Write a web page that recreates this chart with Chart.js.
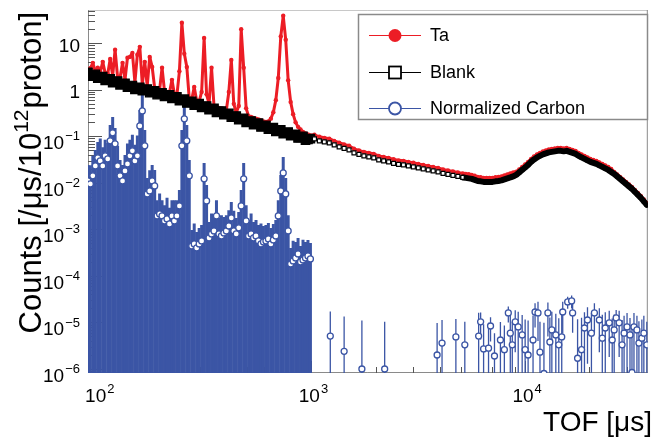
<!DOCTYPE html>
<html>
<head>
<meta charset="utf-8">
<script src="https://cdn.jsdelivr.net/npm/chart.js@4.4.0/dist/chart.umd.min.js"></script>
<style>
  html, body { margin: 0; padding: 0; background: #fff; }
  #tof { display: block; }
</style>
</head>
<body>
<canvas id="tof" width="655" height="437"></canvas>
<script>
// TOF bins below 1 ms (shared by all three spectra)
const tofEarly = [
  89.9, 92.3, 94.8, 97.4, 100.0, 102.7, 105.5, 108.3, 111.3, 114.3,
  117.4, 120.5, 123.8, 127.1, 130.6, 134.1, 137.7, 141.4, 145.2, 149.2,
  153.2, 157.3, 161.6, 165.9, 170.4, 175.0, 179.7, 184.6, 189.6, 194.7,
  199.9, 205.3, 210.9, 216.6, 222.4, 228.4, 234.6, 241.0, 247.5, 254.1,
  261.0, 268.0, 275.3, 282.7, 290.3, 298.2, 306.2, 314.5, 323.0, 331.7,
  340.7, 349.9, 359.3, 369.0, 379.0, 389.2, 399.7, 410.5, 421.6, 433.0,
  444.7, 456.7, 469.0, 481.7, 494.7, 508.1, 521.8, 535.9, 550.3, 565.2,
  580.4, 596.1, 612.2, 628.7, 645.7, 663.2, 681.1, 699.5, 718.4, 737.7,
  757.7, 778.1, 799.1, 820.7, 842.9, 865.6, 889.0, 912.9, 937.7, 962.9,
  988.9
];
const blankEarly = [
  2.39, 1.98, 2.05, 2.14, 1.78, 1.84, 1.92, 1.59, 1.65, 1.72,
  1.42, 1.48, 1.54, 1.28, 1.33, 1.38, 1.14, 1.19, 1.24, 1.02,
  1.09, 1.13, 0.955, 1.00, 1.04, 0.873, 0.905, 0.951, 0.790, 0.826,
  0.861, 0.721, 0.748, 0.785, 0.653, 0.677, 0.704, 0.584, 0.606, 0.631,
  0.524, 0.543, 0.566, 0.470, 0.487, 0.508, 0.420, 0.437, 0.450, 0.374,
  0.384, 0.400, 0.329, 0.341, 0.351, 0.292, 0.300, 0.312, 0.258, 0.266,
  0.274, 0.228, 0.234, 0.243, 0.200, 0.206, 0.214, 0.178, 0.184, 0.192,
  0.159, 0.165, 0.172, 0.143, 0.148, 0.154, 0.128, 0.133, 0.138, 0.114,
  0.119, 0.124, 0.103, 0.107, 0.111, 0.0922, 0.0955, 0.0995, 0.0826, 0.0856,
  0.0891
];
const taEarly = [
  2.6, 2.9, 3.8, 2.5, 3.0, 2.4, 4.0, 2.3, 2.2, 4.6,
  2.0, 7.3, 1.85, 1.8, 3.8, 1.65, 4.9, 5.1, 6.2, 1.45,
  5.7, 8.4, 1.3, 4.0, 1.2, 5.1, 3.1, 1.1, 1.05, 1.0,
  3.0, 0.93, 0.9, 0.87, 1.64, 0.8, 0.77, 2.5, 27.6, 6.0,
  3.1, 0.65, 0.62, 1.15, 0.58, 0.56, 0.9, 13, 0.8, 0.5,
  3.0, 0.45, 0.43, 0.41, 0.40, 0.38, 0.37, 0.9, 4.4, 0.5,
  0.32, 0.45, 20, 3.0, 0.4, 0.27, 0.26, 0.25, 0.24, 0.23,
  0.22, 0.21, 0.205, 0.21, 0.24, 0.33, 0.6, 1.8, 14, 39,
  12, 1.6, 0.55, 0.3, 0.2, 0.16, 0.14, 0.125, 0.115, 0.11,
  0.105
];
const carbonEarly = [
  0.0110, 0.00952, 0.0142, 0.0232, 0.0345, 0.0297, 0.0232, 0.0381, 0.0328, 0.080,
  0.119, 0.069, 0.0232, 0.0142, 0.0110, 0.0181, 0.0256, 0.0381, 0.0488, 0.0297,
  0.0381, 0.168, 0.353, 0.0625, 0.0058, 0.00673, 0.0110, 0.00862, 0.00195, 0.00215,
  0.00195, 0.00152, 0.00168, 0.00131, 0.00195, 0.00152, 0.00195, 0.0032, 0.0625, 0.238,
  0.080, 0.0142, 0.000442, 0.000488, 0.000400, 0.000488, 0.000566, 0.0122, 0.0041, 0.000657,
  0.0008, 0.000928, 0.00195, 0.0008, 0.000725, 0.000841, 0.000928, 0.00119, 0.00177, 0.000928,
  0.0008, 0.00108, 0.0032, 0.0122, 0.00152, 0.000725, 0.0008, 0.000657, 0.000725, 0.000566,
  0.000488, 0.000538, 0.000566, 0.000625, 0.000488, 0.000594, 0.000725, 0.00195, 0.00673, 0.0164,
  0.0058, 0.000928, 0.000181, 0.00021, 0.000244, 0.000297, 0.0002, 0.000221, 0.000244, 0.000269,
  0.000232
];
const carbonEarlyErr = [
  0.0132, 0.0143, 0.024, 0.028, 0.041, 0.060, 0.035, 0.046, 0.039, 0.096,
  0.143, 0.083, 0.040, 0.017, 0.0132, 0.0217, 0.045, 0.046, 0.059, 0.036,
  0.066, 0.20, 0.42, 0.075, 0.0070, 0.012, 0.0132, 0.0103, 0.0023, 0.0038,
  0.0023, 0.0018, 0.0031, 0.0016, 0.0023, 0.0027, 0.0023, 0.0038, 0.075, 0.29,
  0.096, 0.017, 0.00053, 0.00085, 0.00048, 0.00059, 0.00068, 0.0146, 0.0049, 0.00079,
  0.0014, 0.0011, 0.0023, 0.00096, 0.0013, 0.0010, 0.0011, 0.0014, 0.0021, 0.0016,
  0.00096, 0.0013, 0.0038, 0.0146, 0.0018, 0.00087, 0.0014, 0.00079, 0.00087, 0.00068,
  0.00085, 0.00065, 0.00068, 0.00075, 0.00059, 0.00071, 0.00087, 0.0023, 0.0081, 0.0197,
  0.0070, 0.0011, 0.00022, 0.00036, 0.00029, 0.00036, 0.00024, 0.00038, 0.00029, 0.00032,
  0.00028
];

// TOF bins above 1 ms for Ta and blank
const tofLate = [
  1032.5, 1089, 1148.6, 1211.5, 1277.8, 1347.8, 1421.6, 1499.4, 1581.3, 1668.1,
  1759.5, 1855.7, 1957.1, 2064.2, 2177.3, 2296.6, 2422.3, 2554.9, 2694.9, 2842.4,
  2998.2, 3162.3, 3335.6, 3518.2, 3710.9, 3914.2, 4128.6, 4354.7, 4593.2, 4844.7,
  5109.7, 5275.7, 5447.1, 5624.1, 5806.9, 5995.6, 6190.4, 6391.5, 6599.2, 6813.7,
  7035.1, 7263.7, 7499.7, 7743.4, 7995.0, 8254.8, 8523.0, 8800.0, 9085.9, 9381.1,
  9686.0, 10000, 10325, 10660, 11007, 11364, 11733, 12115, 12508, 12915,
  13335, 13768, 14215, 14677, 15154, 15646, 16154, 16679, 17221, 17781,
  18358, 18955, 19571, 20207, 20863, 21541, 22241, 22964, 23710, 24480,
  25276, 26097, 26945, 27821, 28725, 29658, 30622, 31617, 32644, 33705,
  34800, 35931, 37099
];
const blankLate = [
  0.0884, 0.0800, 0.0762, 0.0725, 0.0657, 0.0594, 0.0552, 0.0513, 0.0442, 0.0410,
  0.0381, 0.0362, 0.0345, 0.0312, 0.0297, 0.0283, 0.0263, 0.0250, 0.0244, 0.0232,
  0.0221, 0.0210, 0.0200, 0.0190, 0.0181, 0.0172, 0.0160, 0.0152, 0.0145, 0.0138,
  0.0131, 0.0128, 0.0125, 0.0122, 0.0116, 0.0110, 0.0108, 0.0105, 0.0105, 0.0105,
  0.0105, 0.0108, 0.0110, 0.0113, 0.0119, 0.0125, 0.0131, 0.0138, 0.0149, 0.0168,
  0.0190, 0.0215, 0.0244, 0.0283, 0.0320, 0.0353, 0.0381, 0.0410, 0.0431, 0.0453,
  0.0464, 0.0476, 0.0488, 0.0488, 0.0476, 0.0488, 0.0464, 0.0442, 0.0420, 0.0381,
  0.0353, 0.0328, 0.0305, 0.0283, 0.0269, 0.0256, 0.0238, 0.0221, 0.0205, 0.0190,
  0.0172, 0.0156, 0.0138, 0.0122, 0.0108, 0.00952, 0.00841, 0.00743, 0.00641, 0.00552,
  0.00476, 0.00400, 0.00336
];
const taLate = [
  0.108, 0.098, 0.093, 0.089, 0.080, 0.073, 0.067, 0.063, 0.054, 0.050,
  0.0465, 0.0442, 0.0421, 0.0381, 0.0362, 0.0345, 0.0321, 0.0305, 0.0298, 0.0283,
  0.0270, 0.0256, 0.0244, 0.0232, 0.0221, 0.0210, 0.0195, 0.0185, 0.0177, 0.0168,
  0.0160, 0.0156, 0.0153, 0.0149, 0.0142, 0.0134, 0.0132, 0.0128, 0.0128, 0.0128,
  0.0128, 0.0132, 0.0134, 0.0138, 0.0145, 0.0152, 0.0160, 0.0168, 0.0173, 0.0195,
  0.0220, 0.0249, 0.0283, 0.0328, 0.0371, 0.0409, 0.0442, 0.0476, 0.0500, 0.0525,
  0.0538, 0.0552, 0.0566, 0.0566, 0.0552, 0.0566, 0.0538, 0.0513, 0.0487, 0.0442,
  0.0409, 0.0380, 0.0354, 0.0328, 0.0312, 0.0297, 0.0276, 0.0256, 0.0238, 0.0220,
  0.0200, 0.0172, 0.0152, 0.0134, 0.0119, 0.0105, 0.00925, 0.00817, 0.00705, 0.00607,
  0.00524, 0.00440, 0.00370
];

// normalized carbon above 1 ms: sparse counts with large errors
const tofCarbonLate = [
  1225, 1422, 1722, 2201, 3873, 4084, 4741, 5220, 6059, 6190,
  6391, 6741, 6887, 7187, 7661, 7994, 8342, 8522, 8706, 8988,
  9281, 9685, 10000, 10325, 10889, 11127, 11486, 11733, 12246, 12779,
  13054, 13335, 13916, 14369, 14834, 14993, 15814, 16506, 16681, 17596,
  18363, 18950, 19579, 20429, 21093, 22245, 22968, 23714, 24748, 25556,
  26105, 26668, 27542, 28420, 29040, 29986, 30953, 31623, 32307, 33356,
  34077, 35177, 35938, 37103
];
const carbonLate = [
  5.1e-6, 2.4e-6, 1.0e-6, 1.0e-6, 2.0e-6, 3.6e-6, 4.9e-6, 3.3e-6, 5.1e-6, 1.03e-5,
  2.7e-6, 2.8e-6, 8.4e-6, 1.9e-6, 4.2e-6, 2.6e-6, 1.6e-5, 5.9e-6, 3.3e-6, 1.03e-5,
  8.0e-6, 5.4e-6, 2.6e-6, 2.0e-6, 4.2e-6, 1.68e-5, 1.6e-5, 2.3e-6, 8.0e-7, 1.6e-5,
  3.8e-6, 6.9e-6, 5.4e-6, 3.3e-6, 4.9e-6, 1.68e-5, 2.76e-5, 2.9e-5, 1.6e-5, 1.7e-6,
  2.6e-6, 7.6e-6, 1.13e-5, 5.9e-6, 1.6e-5, 1.13e-5, 4.6e-6, 7.6e-6, 9.8e-6, 4.2e-6,
  6.9e-6, 1.25e-5, 9.8e-6, 3.3e-6, 5.9e-6, 8.0e-6, 5.4e-6, 8.4e-7, 8.0e-6, 6.9e-6,
  3.6e-6, 4.6e-6, 5.9e-6, 3.3e-6
];
const carbonLateErr = [
  1.2e-5, 1.1e-5, 1.0e-5, 9.3e-6, 7.7e-6, 7.7e-6, 7.0e-6, 7.0e-6, 1.1e-5, 6.0e-6,
  6.5e-6, 7.0e-6, 4.5e-6, 4.0e-6, 6.0e-6, 6.0e-6, 6.0e-6, 8.0e-6, 7.0e-6, 8.0e-6,
  9.0e-6, 9.0e-6, 9.0e-6, 9.0e-6, 1.0e-5, 9.0e-6, 1.2e-5, 8.0e-6, 9.0e-6, 1.1e-5,
  9.0e-6, 1.0e-5, 1.0e-5, 9.0e-6, 1.0e-5, 1.1e-5, 8.0e-6, 9.0e-6, 1.0e-5, 1.0e-5,
  1.0e-5, 9.0e-6, 1.0e-5, 1.0e-5, 1.0e-5, 9.0e-6, 1.0e-5, 9.0e-6, 8.0e-6, 8.0e-6,
  8.0e-6, 6.0e-6, 8.0e-6, 8.0e-6, 8.0e-6, 8.0e-6, 7.0e-6, 7.0e-6, 8.0e-6, 7.0e-6,
  7.0e-6, 7.0e-6, 8.0e-6, 7.0e-6
];

// axis labels: [value, base, exponent]
const yTickLabels = [[10, '10', ''], [1, '1', ''], [1e-1, '10', '\u22121'], [1e-2, '10', '\u22122'],
  [1e-3, '10', '\u22123'], [1e-4, '10', '\u22124'], [1e-5, '10', '\u22125'], [1e-6, '10', '\u22126']];
const xTickLabels = [[1e2, '10', '2'], [1e3, '10', '3'], [1e4, '10', '4']];
const seriesNames = ['Ta', 'Blank', 'Normalized Carbon'];

const RED = '#ec1d25';
const BLUE = '#3b55a5';
const FONT = '"Liberation Sans", Arial, Helvetica, sans-serif';

const pts = (xs, ys) => xs.map((t, i) => ({x: t, y: ys[i]}));
const taPoints = pts(tofEarly, taEarly).concat(pts(tofLate, taLate));
const blankPoints = pts(tofEarly, blankEarly).concat(pts(tofLate, blankLate));
const carbonPoints = pts(tofEarly, carbonEarly).concat(pts(tofCarbonLate, carbonLate));
const carbonErr = carbonEarlyErr.concat(carbonLateErr);

function drawPower(ctx, base, exp, x, y, align, size) {
  const bf = size + 'px ' + FONT;
  const ef = Math.round(size * 0.66) + 'px ' + FONT;
  ctx.font = bf;
  const wb = ctx.measureText(base).width;
  ctx.font = ef;
  const we = exp ? ctx.measureText(exp).width + 1 : 0;
  let x0 = x;
  if (align === 'right') x0 = x - wb - we;
  if (align === 'center') x0 = x - (wb + we) / 2;
  ctx.font = bf;
  ctx.fillText(base, x0, y);
  if (exp) {
    ctx.font = ef;
    ctx.fillText(exp, x0 + wb + 1, y - size * 0.47);
  }
}

function hline(ctx, x1, y1, x2, y2) {
  ctx.beginPath();
  ctx.moveTo(x1, y1);
  ctx.lineTo(x2, y2);
  ctx.stroke();
}

const rootFrame = {
  id: 'rootFrame',
  beforeDatasetsDraw(chart) {
    const {ctx, chartArea: a, scales: {x, y}} = chart;
    ctx.save();
    // frame
    ctx.strokeStyle = '#c8c8c8';
    ctx.lineWidth = 1;
    hline(ctx, a.left, a.top + 0.5, a.right, a.top + 0.5);
    ctx.strokeStyle = '#8a8a8a';
    hline(ctx, a.right - 0.5, a.top, a.right - 0.5, a.bottom);
    hline(ctx, a.left + 0.5, a.top, a.left + 0.5, a.bottom);
    hline(ctx, a.left, a.bottom - 0.5, a.right, a.bottom - 0.5);

    // log ticks, pointing into the frame
    ctx.strokeStyle = '#555';
    for (let e = -7; e <= 1; e++) {
      for (let m = 1; m <= 9; m++) {
        const v = m * Math.pow(10, e);
        if (v < y.min || v > y.max) continue;
        const py = Math.round(y.getPixelForValue(v)) + 0.5;
        hline(ctx, a.left, py, a.left + (m === 1 ? 14 : 7), py);
      }
    }
    for (let e = 1; e <= 4; e++) {
      for (let m = 1; m <= 9; m++) {
        const v = m * Math.pow(10, e);
        if (v < x.min || v > x.max) continue;
        const px = Math.round(x.getPixelForValue(v)) + 0.5;
        hline(ctx, px, a.bottom, px, a.bottom - (m === 1 ? 12 : 6));
      }
    }

    // carbon error bars
    ctx.beginPath();
    ctx.rect(a.left, a.top, a.right - a.left, a.bottom - a.top);
    ctx.clip();
    ctx.strokeStyle = BLUE;
    carbonPoints.forEach((p, i) => {
      const px = x.getPixelForValue(p.x);
      const lo = p.y - carbonErr[i];
      const yTop = y.getPixelForValue(p.y + carbonErr[i]);
      const yBot = lo > 0 ? y.getPixelForValue(lo) : a.bottom;
      ctx.lineWidth = p.x < 1000 ? 3 : 1.3;
      hline(ctx, px, yTop, px, yBot);
    });
    ctx.restore();
  },
  afterDraw(chart) {
    const {ctx, scales: {x, y}} = chart;
    ctx.save();
    ctx.fillStyle = '#000';
    ctx.textBaseline = 'alphabetic';
    ctx.textAlign = 'left';

    yTickLabels.forEach(([v, base, exp]) => {
      const py = y.getPixelForValue(v);
      drawPower(ctx, base, exp, 80, py + (exp ? 13 : 8.5), 'right', 19);
    });
    xTickLabels.forEach(([v, base, exp]) => {
      drawPower(ctx, base, exp, x.getPixelForValue(v) + 2, 402, 'center', 19);
    });

    // x title, right aligned
    ctx.font = '28px ' + FONT;
    ctx.textAlign = 'right';
    ctx.fillText('TOF [\u03bcs]', 652, 431);

    // y title, rotated and aligned to the top of the axis
    ctx.save();
    ctx.translate(41, 12);
    ctx.rotate(-Math.PI / 2);
    ctx.textAlign = 'left';
    const parts = [['Counts [/\u03bcs/10', false], ['12', true], ['proton]', false]];
    let total = 0;
    parts.forEach(([s, sup]) => {
      ctx.font = (sup ? 21 : 31) + 'px ' + FONT;
      total += ctx.measureText(s).width + (sup ? 1 : 0);
    });
    let cx = -total;
    parts.forEach(([s, sup]) => {
      ctx.font = (sup ? 21 : 31) + 'px ' + FONT;
      ctx.fillText(s, cx, sup ? -13 : 0);
      cx += ctx.measureText(s).width + (sup ? 1 : 0);
    });
    ctx.restore();

    // legend box
    ctx.fillStyle = '#fff';
    ctx.fillRect(358, 14, 290, 106);
    ctx.strokeStyle = '#8a8a8a';
    ctx.lineWidth = 1.5;
    ctx.strokeRect(358.5, 14.5, 289, 105);
    const rows = [35, 72, 108];
    const colors = [RED, '#000', BLUE];
    rows.forEach((ry, i) => {
      ctx.strokeStyle = colors[i];
      ctx.lineWidth = 1;
      hline(ctx, 369, ry + 0.5, 421, ry + 0.5);
      ctx.beginPath();
      if (i === 0) {
        ctx.fillStyle = RED;
        ctx.arc(395, ry + 0.5, 6.5, 0, Math.PI * 2);
        ctx.fill();
      } else if (i === 1) {
        ctx.fillStyle = '#fff';
        ctx.lineWidth = 1.8;
        ctx.fillRect(389, ry - 5.5, 12, 12);
        ctx.strokeRect(389, ry - 5.5, 12, 12);
      } else {
        ctx.fillStyle = '#fff';
        ctx.lineWidth = 1.8;
        ctx.arc(395, ry + 0.5, 6, 0, Math.PI * 2);
        ctx.fill();
        ctx.stroke();
      }
      ctx.fillStyle = '#000';
      ctx.font = '18px ' + FONT;
      ctx.textAlign = 'left';
      ctx.textBaseline = 'middle';
      ctx.fillText(seriesNames[i], 430, ry + 1);
    });
    ctx.restore();
  }
};

new Chart(document.getElementById('tof'), {
  type: 'scatter',
  data: {
    datasets: [
      {
        label: seriesNames[1],
        data: blankPoints,
        order: 1,
        showLine: true,
        borderColor: '#000',
        borderWidth: 1,
        borderJoinStyle: 'round',
        borderCapStyle: 'round',
        // past ~5 ms the bins are so dense they merge into one thick trace
        segment: { borderWidth: c => c.p0.parsed.x > 5000 ? 6 : 1 },
        pointStyle: 'rect',
        pointRadius: c => (c.raw && c.raw.x < 1000) ? 6 : (c.raw && c.raw.x < 5200 ? 2.8 : 2.2),
        pointBackgroundColor: c => (c.raw && c.raw.x > 1000 && c.raw.x < 5200) ? '#fff' : '#000',
        pointBorderColor: '#000',
        pointBorderWidth: 1.2
      },
      {
        label: seriesNames[0],
        data: taPoints,
        order: 2,
        showLine: true,
        borderColor: RED,
        borderWidth: 3,
        borderJoinStyle: 'round',
        pointRadius: 2.2,
        pointBackgroundColor: RED,
        pointBorderWidth: 0
      },
      {
        label: seriesNames[2],
        data: carbonPoints,
        order: 3,
        showLine: false,
        pointRadius: 3,
        pointBackgroundColor: '#fff',
        pointBorderColor: BLUE,
        pointBorderWidth: 1.3
      }
    ]
  },
  options: {
    responsive: false,
    animation: false,
    devicePixelRatio: 1,
    layout: { padding: { left: 88, right: 1, top: 10, bottom: 64 } },
    plugins: { legend: { display: false }, tooltip: { enabled: false } },
    scales: {
      x: { type: 'logarithmic', min: 90, max: 37500, display: false },
      y: { type: 'logarithmic', min: 8.2e-7, max: 52, display: false }
    }
  },
  plugins: [rootFrame]
});
</script>
</body>
</html>
